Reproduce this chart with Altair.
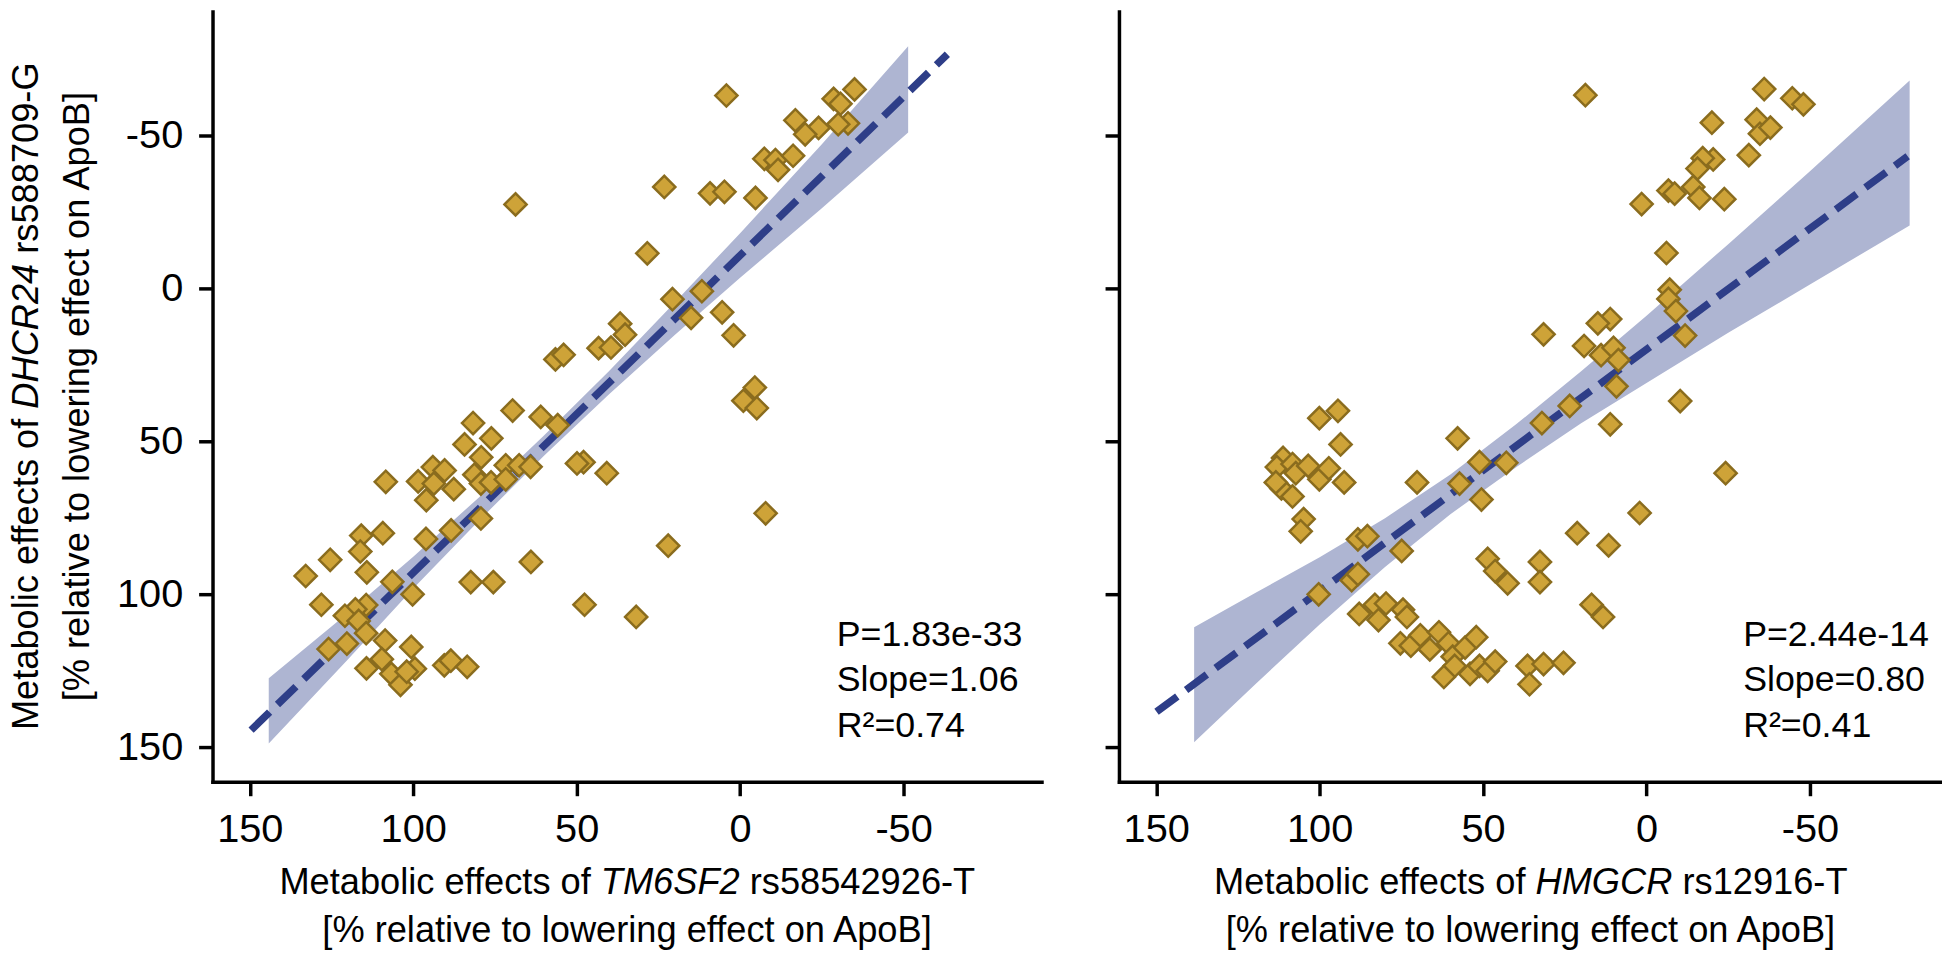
import altair as alt
import pandas as pd

FONT = "Liberation Sans"

# ---------------- data ----------------
left_x = [4.2, -28.6, -35.0, -30.7, -33.0, -30.0, -16.9, -24.0, -19.9, -7.4,
          -10.8, -11.6, -16.2, 23.2, 9.2, 4.8, -4.7, 68.7, 28.4, 20.7,
          11.7, 15.0, 5.5, 2.0, 36.7, 35.2, 43.3, 39.5, 56.5, 54.0,
          -4.5, -1.0, -5.1, 69.6, 61.0, 55.8, 81.7, 84.3, 76.1, 47.9,
          49.9, 40.8, -7.8, 22.0, 47.6, 31.8, 64.0, 82.4, 75.5, 108.4,
          94.0, 90.4, 98.5, 93.7, 87.6, 96.0, 79.2, 81.3, 79.3, 76.2,
          71.7, 67.6, 64.1, 71.7, 79.3, 88.4, 96.1, 109.3, 115.9, 116.2,
          114.2, 125.4, 132.9, 106.4, 100.2, 128.1, 114.4, 117.7, 120.9, 116.7,
          125.9, 120.3, 114.4, 108.6, 109.6, 114.3, 106.7, 103.9, 100.6, 99.5,
          102.0, 90.5, 88.5, 83.5]
left_y = [-63.1, -62.0, -65.1, -60.4, -54.0, -53.7, -55.0, -52.5, -50.4, -42.4,
          -42.0, -38.8, -43.4, -33.2, -31.1, -31.6, -29.6, -27.5, -11.5, 3.5,
          0.9, 9.6, 7.8, 15.3, 11.5, 15.1, 19.5, 19.3, 23.2, 21.7,
          32.4, 36.7, 39.1, 39.9, 42.0, 44.7, 44.0, 51.0, 49.0, 56.8,
          57.2, 60.4, 73.5, 84.1, 103.4, 107.4, 89.4, 96.0, 96.0, 63.2,
          58.4, 59.5, 63.1, 63.8, 65.6, 69.2, 55.2, 60.9, 63.8, 63.4,
          57.8, 57.8, 58.3, 62.4, 75.2, 79.1, 81.9, 80.0, 80.8, 86.0,
          92.8, 88.7, 94.0, 95.9, 100.0, 103.4, 103.5, 104.9, 107.0, 108.7,
          117.9, 116.1, 112.7, 115.1, 121.2, 124.2, 126.0, 129.6, 117.2, 124.3,
          125.3, 123.2, 121.7, 123.7]

right_x = [18.7, -36.0, -44.6, -48.0, -20.0, -33.7, -34.7, -37.9, -31.3, -20.4,
           -17.2, -15.6, -14.3, -6.7, -8.6, -16.2, -23.8, 1.5, -6.1, -7.1,
           -6.7, -9.0, -11.8, 31.5, 11.1, 14.9, 19.1, 13.9, 10.1, 8.6,
           9.2, -10.3, 23.5, 32.0, 11.1, 57.8, 42.9, 51.1, 57.2, 50.5,
           70.2, 74.9, -24.2, 2.1, 21.2, 11.6, 48.6, 46.3, 42.5, 32.6,
           32.6, 16.8, 13.3, 100.3, 88.3, 85.4, 90.2, 88.3,
           100.1, 94.4, 93.6, 111.2, 113.1, 108.3, 107.3, 103.5, 100.1, 97.2,
           92.5, 111.7, 108.3, 113.4, 104.9, 105.8,
           87.9, 83.1, 82.0, 79.7, 74.5, 73.3, 75.3, 72.1, 69.2, 66.3,
           63.5, 60.6, 59.3, 58.7, 62.0, 55.5, 52.1, 54.0, 51.1, 48.6,
           46.3, 36.4, 31.5, 35.8, 25.4]
right_y = [-63.2, -65.2, -62.2, -60.2, -54.2, -55.2, -50.6, -52.6, -43.6, -42.2,
           -42.6, -39.2, -33.2, -32.0, -31.0, -29.6, -29.2, -27.6, -11.6, 0.4,
           3.4, 7.4, 15.4, 15.0, 10.0, 11.4, 18.8, 21.8, 19.4, 23.4,
           32.0, 36.8, 38.4, 44.0, 44.4, 49.0, 57.0, 56.8, 63.8, 69.0,
           63.4, 85.8, 60.4, 73.4, 80.0, 84.0, 88.4, 92.4, 96.4, 89.4,
           96.0, 103.4, 107.4, 100.0, 82.0, 81.0, 95.4, 93.4,
           42.4, 40.0, 51.0, 55.4, 58.4, 57.4, 60.4, 58.0, 62.4, 58.8,
           63.4, 65.4, 68.0, 63.4, 75.4, 79.4,
           106.4, 103.4, 108.4, 103.0, 105.0, 107.4, 116.0, 116.8, 113.4, 118.0,
           112.4, 116.0, 120.4, 123.4, 127.0, 117.4, 114.0, 126.0, 123.4, 125.0,
           122.0, 123.4, 122.8, 129.4, 122.4]

# fitted lines (end points)
left_line_x = [149.6, -63.4]
left_line_y = [144.4, -76.6]
right_line_x = [149.9, -79.9]
right_line_y = [138.4, -43.2]

# confidence bands (edges)
left_band_x = [144.2, 120, 100, 80, 60, 40, 20, 0, -25, -51.4]
left_band_lo = [127.4, 106.1, 87.7, 68.4, 48.1, 26.9, 4.6, -18.1, -47.2, -79.2]
left_band_hi = [148.8, 121.3, 98.1, 76.0, 54.7, 34.5, 15.2, -3.5, -26.2, -51.0]
right_band_x = [138.4, 120, 100, 80, 60, 40, 20, 0, -25, -50, -80.5]
right_band_lo = [110.8, 99.7, 87.9, 75.1, 60.8, 44.5, 27.1, 8.9, -14.5, -38.3, -68.0]
right_band_hi = [148.4, 129.7, 109.9, 91.1, 73.8, 58.5, 44.1, 30.9, 14.5, -1.3, -20.6]

tick_values = [-50, 0, 50, 100, 150]
left_stats = ["P=1.83e-33", "Slope=1.06", "R\u00b2=0.74"]
right_stats = ["P=2.44e-14", "Slope=0.80", "R\u00b2=0.41"]
left_xtitle = ["Metabolic effects of", "TM6SF2", "rs58542926-T"]
right_xtitle = ["Metabolic effects of", "HMGCR", "rs12916-T"]
y_title = ["Metabolic effects of", "DHCR24", "rs588709-G"]
unit_title = "[% relative to lowering effect on ApoB]"

# ---------------- style ----------------
PT_FILL = "#CEA338"
PT_STROKE = "#8A6C1E"
BAND = "#AEB5D2"
LINE = "#2E3E88"

W_L, W_R, H = 835, 829, 776
X_DOM_L = [-92.2, 161.4]
X_DOM_R = [-90.4, 161.4]
Y_DOM = [-90.6, 161.3]


def txt(s, x, y, size=36.5, align="center", baseline="middle", italic=False, angle=0):
    kw = dict(font=FONT, fontSize=size, align=align, baseline=baseline, color="black")
    if italic:
        kw["fontStyle"] = "italic"
    if angle:
        kw["angle"] = angle
    return alt.Chart(pd.DataFrame({"t": [s]})).mark_text(**kw).encode(
        text="t:N", x=alt.value(x), y=alt.value(y))


def panel(xs, ys, lx, ly, bx, blo, bhi, stats, xt, xpos, width, xdom, left):
    xenc = lambda f: alt.X(f + ":Q",
                           scale=alt.Scale(domain=xdom, reverse=True, nice=False, zero=False),
                           axis=alt.Axis(values=tick_values, title=None,
                                         labelExpr="'' + datum.value"))
    yenc = lambda f: alt.Y(f + ":Q",
                           scale=alt.Scale(domain=Y_DOM, reverse=True, nice=False, zero=False),
                           axis=alt.Axis(values=tick_values, title=None, labels=left,
                                         labelExpr="'' + datum.value"))
    band = alt.Chart(pd.DataFrame({"x": bx, "lo": blo, "hi": bhi})).mark_area(
        color=BAND, opacity=1, orient="vertical").encode(
        x=xenc("x"), y=yenc("lo"), y2=alt.Y2("hi:Q"))
    line = alt.Chart(pd.DataFrame({"x": lx, "y": ly})).mark_line(
        color=LINE, strokeWidth=7.5, strokeDash=[26, 11], strokeCap="butt").encode(
        x=xenc("x"), y=yenc("y"))
    pts = alt.Chart(pd.DataFrame({"x": xs, "y": ys})).mark_point(
        shape="diamond", filled=True, fill=PT_FILL, stroke=PT_STROKE, strokeWidth=2.5,
        size=500, opacity=1, fillOpacity=1).encode(x=xenc("x"), y=yenc("y"))
    layers = [band, line, pts]
    # statistics text
    for i, s in enumerate(stats):
        layers.append(txt(s, 628.7, 638.7 + 46.3 * i, size=36, align="left",
                          baseline="alphabetic"))
    # x-axis title (with italic gene name)
    a, b, c, cen = xpos
    layers.append(txt(xt[0], a, H + 102, align="right"))
    layers.append(txt(xt[1], b, H + 102, align="left", italic=True))
    layers.append(txt(xt[2], c, H + 102, align="left"))
    layers.append(txt(unit_title, cen, H + 150))
    if left:
        layers.append(txt(y_title[0], -187, 410.25, align="right", angle=270))
        layers.append(txt(y_title[1], -187, 400.15, align="left", italic=True, angle=270))
        layers.append(txt(y_title[2], -187, 244.05, align="left", angle=270))
        layers.append(txt(unit_title, -135, H / 2, angle=270))
    return alt.layer(*layers).properties(width=width, height=H)


left = panel(left_x, left_y, left_line_x, left_line_y, left_band_x, left_band_lo,
             left_band_hi, left_stats, left_xtitle, (381.0, 391.1, 541.1, W_L / 2),
             W_L, X_DOM_L, True)
right = panel(right_x, right_y, right_line_x, right_line_y, right_band_x, right_band_lo,
              right_band_hi, right_stats, right_xtitle, (409.5, 419.6, 567.6, W_R / 2),
              W_R, X_DOM_R, False)

chart = alt.HConcatChart(hconcat=[left, right], spacing=62, padding=0).configure_view(
    stroke=None).configure_axis(
    domainColor="black", domainWidth=3.5, domainCap="square", tickColor="black",
    tickWidth=3.5, tickSize=14, labelFont=FONT, labelFontSize=40, labelColor="black",
    grid=False, labelFlush=False, labelOverlap=False).configure_axisX(
    labelPadding=14).configure_axisY(labelPadding=16)

chart.save("out.html", embed_options={"renderer": "svg", "actions": False})
